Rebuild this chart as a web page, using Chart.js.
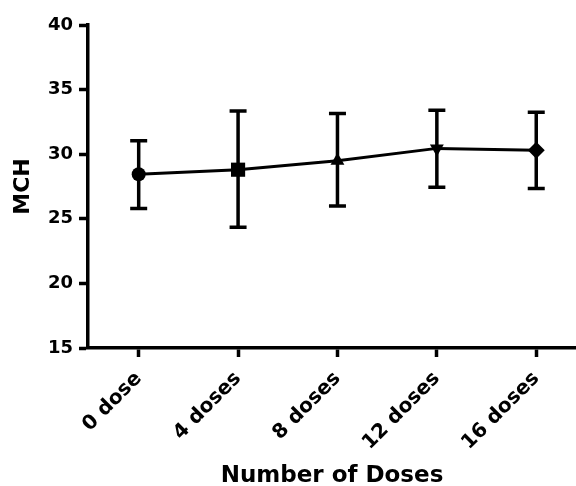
<!DOCTYPE html>
<html>
<head>
<meta charset="utf-8">
<script src="https://cdn.jsdelivr.net/npm/chart.js@4"></script>
<style>
  html, body { margin: 0; padding: 0; background: #fff; }
  #wrap { width: 576px; height: 486px; }
</style>
</head>
<body>
<div id="wrap"><canvas id="chart" width="576" height="486"></canvas></div>
<script>
// values
const categories = ['0 dose', '4 doses', '8 doses', '12 doses', '16 doses'];
const meanMCH = [28.45, 28.8, 29.5, 30.45, 30.3];
const upperMCH = [31.05, 33.35, 33.15, 33.4, 33.25];
const lowerMCH = [25.8, 24.35, 26.0, 27.45, 27.35];
const yTicks = [15, 20, 25, 30, 35, 40];

const markerStyles = ['circle', 'rect', 'triangle', 'triangle', 'rectRot'];
const markerRotation = [0, 0, 0, 180, 0];
const markerRadius = [7, 10, 8, 8, 8.5];

const FONT = "'DejaVu Sans', sans-serif";

// error bars, drawn under the markers
const errorBars = {
  id: 'errorBars',
  beforeDatasetsDraw(chart) {
    const ctx = chart.ctx;
    const xs = chart.scales.x, ys = chart.scales.y;
    ctx.save();
    ctx.strokeStyle = '#000';
    ctx.lineWidth = 3.5;
    ctx.lineCap = 'butt';
    categories.forEach((c, i) => {
      const px = xs.getPixelForValue(i);
      const top = ys.getPixelForValue(upperMCH[i]);
      const bot = ys.getPixelForValue(lowerMCH[i]);
      ctx.beginPath();
      ctx.moveTo(px, top); ctx.lineTo(px, bot);
      ctx.moveTo(px - 8.5, top); ctx.lineTo(px + 8.5, top);
      ctx.moveTo(px - 8.5, bot); ctx.lineTo(px + 8.5, bot);
      ctx.stroke();
    });
    ctx.restore();
  }
};

new Chart(document.getElementById('chart'), {
  type: 'line',
  data: {
    datasets: [{
      label: 'MCH',
      data: meanMCH.map((v, i) => ({ x: i, y: v })),
      borderColor: '#000',
      backgroundColor: '#000',
      borderWidth: 3,
      tension: 0,
      pointStyle: markerStyles,
      pointRotation: markerRotation,
      pointRadius: markerRadius,
      pointBorderWidth: 0,
      pointBackgroundColor: '#000',
    }]
  },
  options: {
    responsive: false,
    animation: false,
    layout: { autoPadding: false, padding: { top: 25, right: 0, left: 0, bottom: 0 } },
    plugins: {
      legend: { display: false },
      tooltip: { enabled: false },
    },
    scales: {
      x: {
        type: 'linear',
        min: -0.51,
        max: 4.4,
        afterBuildTicks: (scale) => { scale.ticks = categories.map((c, i) => ({ value: i })); },
        afterFit: (scale) => { scale.height = 138; scale.paddingRight = 0; scale.paddingLeft = 0; },
        ticks: {
          callback: (v) => categories[v],
          color: '#000',
          font: { family: FONT, size: 20, weight: 'bold' },
          minRotation: 45,
          maxRotation: 45,
          padding: 10,
        },
        grid: { drawOnChartArea: false, drawTicks: true, tickLength: 9, tickWidth: 3.5, tickColor: '#000' },
        border: { display: true, width: 3.5, color: '#000' },
        title: {
          display: true,
          text: 'Number of Doses',
          color: '#000',
          font: { family: FONT, size: 23, weight: 'bold', lineHeight: 1 },
          padding: { top: 0, bottom: -2 },
        },
      },
      y: {
        min: 15,
        max: 40,
        afterBuildTicks: (scale) => { scale.ticks = yTicks.map(v => ({ value: v })); },
        afterFit: (scale) => { scale.width = 88; },
        ticks: {
          color: '#000',
          font: { family: FONT, size: 18, weight: 'bold' },
          padding: 6,
        },
        grid: { drawOnChartArea: false, drawTicks: true, tickLength: 9, tickWidth: 3.5, tickColor: '#000' },
        border: { display: true, width: 3.5, color: '#000' },
        title: {
          display: true,
          text: 'MCH',
          color: '#000',
          font: { family: FONT, size: 22, weight: 'bold', lineHeight: 1 },
          padding: { top: 12, bottom: 0 },
        },
      },
    },
  },
  plugins: [errorBars],
});
</script>
</body>
</html>
